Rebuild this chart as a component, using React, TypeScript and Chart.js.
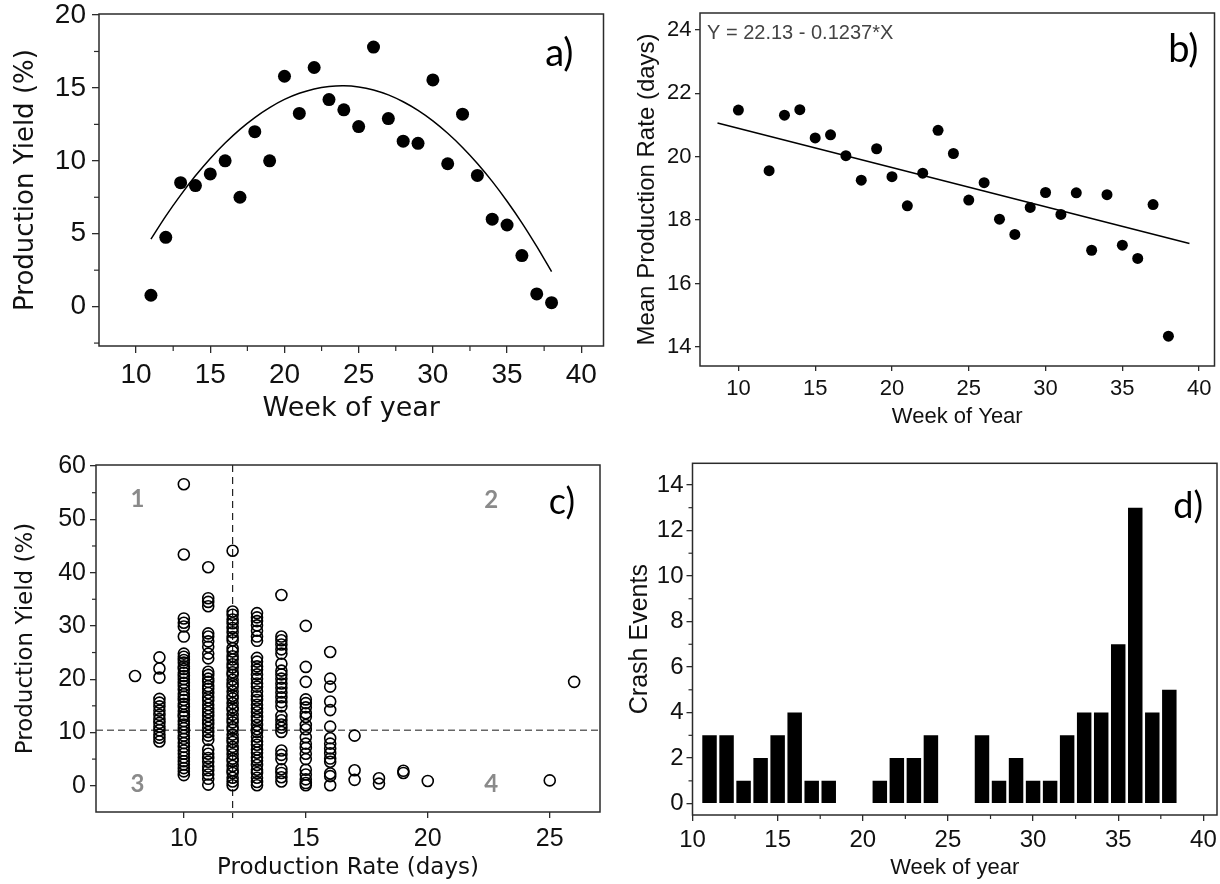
import React, { useEffect, useRef } from "react";
import { Chart, registerables } from "chart.js";

Chart.register(...registerables);

const INK = "#2b2b2b";
const TEXT = "#111111";
const SANS = "'Liberation Sans', Arial, sans-serif";
const WIDE = "'DejaVu Sans', Verdana, sans-serif";
const TAG = "Lato, 'Open Sans', sans-serif";

// ---------- Panel a: production yield by week ----------
const aWeeks = [11, 12, 13, 14, 15, 16, 17, 18, 19, 20, 21, 22, 23, 24, 25, 26, 27, 28, 29, 30, 31, 32, 33, 34, 35, 36, 37, 38];
const aYield = [0.78, 4.75, 8.5, 8.3, 9.1, 10.0, 7.5, 12.0, 10.0, 15.8, 13.25, 16.4, 14.2, 13.5, 12.35, 17.8, 12.9, 11.35, 11.2, 15.55, 9.8, 13.2, 9.0, 6.0, 5.6, 3.5, 0.87, 0.27];
const aFitWeeks = [11, 12, 13, 14, 15, 16, 17, 18, 19, 20, 21, 22, 23, 24, 25, 26, 27, 28, 29, 30, 31, 32, 33, 34, 35, 36, 37, 38];
const aFitYield = [4.63, 6.21, 7.65, 8.97, 10.16, 11.22, 12.16, 12.97, 13.65, 14.21, 14.63, 14.93, 15.1, 15.15, 15.07, 14.86, 14.52, 14.05, 13.46, 12.74, 11.89, 10.92, 9.82, 8.59, 7.23, 5.75, 4.13, 2.4];
const aXTicks = [10, 15, 20, 25, 30, 35, 40];
const aXMinor = [12.5, 17.5, 22.5, 27.5, 32.5, 37.5];
const aYTicks = [0, 5, 10, 15, 20];
const aYMinor = [-2.5, 2.5, 7.5, 12.5, 17.5];

// ---------- Panel b: mean production rate by week ----------
const bWeeks = [10, 12, 13, 14, 15, 16, 17, 18, 19, 20, 21, 22, 23, 24, 25, 26, 27, 28, 29, 30, 31, 32, 33, 34, 35, 36, 37, 38];
const bRate = [21.47, 19.56, 21.31, 21.48, 20.59, 20.69, 20.03, 19.26, 20.25, 19.37, 18.45, 19.48, 20.83, 20.1, 18.63, 19.18, 18.03, 17.55, 18.4, 18.87, 18.18, 18.86, 17.05, 18.8, 17.21, 16.79, 18.49, 14.34];
const bTrendWeeks = [8.64, 39.37];
const bTrendRate = [21.06, 17.26];
const bEquation = "Y = 22.13 - 0.1237*X";
const bXTicks = [10, 15, 20, 25, 30, 35, 40];
const bYTicks = [14, 16, 18, 20, 22, 24];

// ---------- Panel c: yield vs production rate ----------
const cRates = [8, 9, 10, 11, 12, 13, 14, 15, 16, 17, 18, 19, 20, 25, 26];
const cYields = [
  [20.6],
  [24.1, 22.0, 20.3, 16.3, 15.6, 14.9, 14.1, 13.3, 12.5, 11.8, 11.1, 10.4, 9.6, 9.0, 8.3],
  [56.6, 43.4, 31.4, 30.6, 29.9, 28.0, 24.8, 24.2, 23.6, 23.1, 22.4, 21.9, 21.2, 20.6, 20.0, 19.3, 18.7, 18.0, 17.2, 16.7, 16.1, 15.4, 14.8, 14.0, 13.3, 12.9, 12.1, 11.5, 10.8, 10.1, 9.4, 8.8, 8.0, 7.3, 6.6, 6.0, 5.3, 4.6, 4.0, 3.3, 2.7, 2.0],
  [41.0, 35.2, 34.5, 33.7, 28.6, 28.0, 27.1, 26.1, 24.8, 23.9, 21.4, 20.8, 20.1, 19.5, 18.7, 18.2, 17.4, 16.6, 16.0, 15.2, 14.5, 13.8, 13.1, 12.3, 11.6, 10.9, 10.1, 9.4, 8.6, 6.8, 6.0, 5.2, 4.5, 3.6, 2.9, 2.1, 1.3, 0.2],
  [44.1, 32.7, 32.1, 31.2, 30.5, 29.6, 28.8, 27.9, 27.3, 25.8, 25.2, 24.3, 23.7, 22.8, 22.2, 21.3, 20.8, 19.9, 19.1, 18.6, 17.7, 16.9, 16.4, 15.5, 14.7, 14.2, 13.3, 12.5, 11.9, 11.0, 10.5, 9.6, 8.8, 8.2, 7.3, 6.7, 5.9, 5.1, 4.6, 3.7, 2.9, 2.4, 1.5, 0.8, 0.1],
  [32.4, 31.6, 30.9, 30.1, 29.1, 28.0, 27.2, 24.0, 23.3, 22.4, 21.8, 20.9, 20.1, 19.2, 18.6, 17.7, 16.8, 16.1, 15.2, 14.5, 13.8, 12.9, 12.3, 11.4, 10.6, 10.1, 9.2, 8.3, 7.7, 6.8, 6.2, 5.3, 4.7, 3.9, 3.0, 2.4, 1.5, 0.7, 0.1],
  [35.8, 28.0, 27.3, 26.5, 25.6, 24.8, 22.9, 21.6, 20.9, 20.1, 19.2, 18.4, 17.5, 16.6, 15.7, 14.9, 13.1, 12.3, 11.5, 10.9, 10.1, 6.6, 5.8, 5.0, 3.1, 2.4, 1.6, 0.8],
  [30.0, 22.3, 19.5, 16.2, 15.5, 14.7, 13.6, 12.9, 11.4, 10.6, 9.1, 7.9, 7.1, 6.0, 5.0, 3.0, 2.1, 1.2, 0.5, 0.1],
  [25.1, 20.1, 18.6, 15.8, 14.2, 11.1, 8.9, 7.9, 7.0, 6.1, 5.1, 4.5, 2.3, 1.8, 0.1],
  [9.4, 2.9, 1.1],
  [1.4, 0.4],
  [2.8, 2.4],
  [0.9],
  [1.0],
  [19.5],
];
const cRateThreshold = 12;
const cYieldThreshold = 10.4;
const cXTicks = [10, 15, 20, 25];
const cYTicks = [0, 10, 20, 30, 40, 50, 60];
const cYMinor = [5, 15, 25, 35, 45, 55];
const cQuadrants = ["1", "2", "3", "4"];

// ---------- Panel d: crash events by week ----------
const dWeeks = [11, 12, 13, 14, 15, 16, 17, 18, 19, 20, 21, 22, 23, 24, 25, 26, 27, 28, 29, 30, 31, 32, 33, 34, 35, 36, 37, 38];
const dCrashes = [3, 3, 1, 2, 3, 4, 1, 1, 0, 0, 1, 2, 2, 3, 0, 0, 3, 1, 2, 1, 1, 3, 4, 4, 7, 13, 4, 5];
const dXTicks = [10, 15, 20, 25, 30, 35, 40];
const dXMinor = [12.5, 17.5, 22.5, 27.5, 32.5, 37.5];
const dYTicks = [0, 2, 4, 6, 8, 10, 12, 14];
const dYMinor = [1, 3, 5, 7, 9, 11, 13];

const overlayPlugin = {
  id: "overlay",
  beforeDatasetsDraw(chart: any, _args: any, opts: any) {
    const { ctx, chartArea: a, scales } = chart;
    (opts.dashes || []).forEach((d: any) => {
      ctx.save();
      ctx.setLineDash(d.dash);
      ctx.strokeStyle = d.color;
      ctx.lineWidth = d.width;
      ctx.beginPath();
      if (d.axis === "x") {
        const px = scales.x.getPixelForValue(d.value);
        ctx.moveTo(px, a.top);
        ctx.lineTo(px, a.bottom + (d.extend || 0));
      } else {
        const py = scales.y.getPixelForValue(d.value);
        ctx.moveTo(a.left, py);
        ctx.lineTo(a.right, py);
      }
      ctx.stroke();
      ctx.restore();
    });
  },
  afterDraw(chart: any, _args: any, opts: any) {
    const { ctx, chartArea: a, scales } = chart;
    ctx.save();
    ctx.strokeStyle = INK;
    ctx.lineWidth = 1.5;
    ctx.strokeRect(a.left, a.top, a.right - a.left, a.bottom - a.top);
    ctx.lineWidth = 1.2;
    (opts.xMinor || []).forEach((v: number) => {
      const px = scales.x.getPixelForValue(v);
      ctx.beginPath();
      ctx.moveTo(px, a.bottom);
      ctx.lineTo(px, a.bottom + opts.minorLen);
      ctx.stroke();
    });
    (opts.yMinor || []).forEach((v: number) => {
      const py = scales.y.getPixelForValue(v);
      ctx.beginPath();
      ctx.moveTo(a.left, py);
      ctx.lineTo(a.left - opts.minorLen, py);
      ctx.stroke();
    });
    (opts.texts || []).forEach((t: any) => {
      ctx.font = t.font;
      ctx.fillStyle = t.color;
      ctx.textAlign = t.align;
      ctx.textBaseline = "middle";
      const x = t.dataX !== undefined ? scales.x.getPixelForValue(t.dataX) : t.fromRight ? a.right - t.dx : a.left + t.dx;
      const y = t.dataY !== undefined ? scales.y.getPixelForValue(t.dataY) : a.top + t.dy;
      ctx.fillText(t.text, x, y);
    });
    ctx.restore();
  },
};

function makeAxis(o: any) {
  const isX = o.pos === "x";
  return {
    type: "linear",
    position: isX ? "bottom" : "left",
    min: o.min,
    max: o.max,
    offset: false,
    afterBuildTicks: (s: any) => {
      s.ticks = o.ticks.map((v: number) => ({ value: v }));
    },
    afterFit: (s: any) => {
      if (isX) {
        s.height = o.size;
        s.paddingLeft = 0;
        s.paddingRight = 0;
      } else {
        s.width = o.size;
        s.paddingTop = 0;
        s.paddingBottom = 0;
      }
    },
    grid: { display: true, drawOnChartArea: false, drawTicks: true, tickLength: o.tickLen, color: INK, lineWidth: 1.3, offset: false },
    border: { display: false },
    ticks: {
      font: { family: o.tickFamily || o.family, size: o.tickSize },
      color: TEXT,
      padding: o.tickPad,
      autoSkip: false,
      maxRotation: 0,
      minRotation: 0,
      callback: (v: any) => String(v),
    },
    title: {
      display: true,
      text: o.title,
      font: { family: o.family, size: o.titleSize },
      color: TEXT,
      padding: isX ? { top: 0, bottom: o.titlePad } : { top: o.titlePad, bottom: 0 },
    },
  };
}

function baseOptions(pad: any, scales: any, overlay: any) {
  return {
    responsive: false,
    maintainAspectRatio: false,
    animation: false,
    layout: { padding: pad },
    plugins: { legend: { display: false }, tooltip: { enabled: false }, overlay },
    scales,
  };
}

function configA() {
  return {
    type: "scatter",
    data: {
      datasets: [
        {
          data: aWeeks.map((w, i) => ({ x: w, y: aYield[i] })),
          pointRadius: 6.5,
          backgroundColor: "#000",
          borderWidth: 0,
        },
        {
          data: aFitWeeks.map((w, i) => ({ x: w, y: aFitYield[i] })),
          showLine: true,
          pointRadius: 0,
          borderColor: "#000",
          borderWidth: 1.5,
          tension: 0.3,
          fill: false,
        },
      ],
    },
    options: baseOptions(
      { left: 0, top: 14, right: 5, bottom: 0 },
      {
        x: makeAxis({ pos: "x", min: 7.5, max: 41.5, ticks: aXTicks, size: 94, tickLen: 7, tickPad: 5, family: WIDE, tickFamily: SANS, tickSize: 28, title: "Week of year", titleSize: 27, titlePad: 15 }),
        y: makeAxis({ pos: "y", min: -2.7, max: 20.07, ticks: aYTicks, size: 99, tickLen: 7, tickPad: 6, family: WIDE, tickFamily: SANS, tickSize: 28, title: "Production Yield (%)", titleSize: 26, titlePad: 11 }),
      },
      {
        xMinor: aXMinor,
        yMinor: aYMinor,
        minorLen: 5,
        texts: [{ text: "a)", font: `38px ${TAG}`, color: "#000", align: "right", fromRight: true, dx: 30, dy: 40 }],
      }
    ),
  };
}

function configB() {
  return {
    type: "scatter",
    data: {
      datasets: [
        {
          data: bWeeks.map((w, i) => ({ x: w, y: bRate[i] })),
          pointRadius: 5.5,
          backgroundColor: "#000",
          borderWidth: 0,
        },
        {
          data: bTrendWeeks.map((w, i) => ({ x: w, y: bTrendRate[i] })),
          showLine: true,
          pointRadius: 0,
          borderColor: "#000",
          borderWidth: 1.5,
          fill: false,
        },
      ],
    },
    options: baseOptions(
      { left: 0, top: 13, right: 3, bottom: 0 },
      {
        x: makeAxis({ pos: "x", min: 7.5, max: 41, ticks: bXTicks, size: 74, tickLen: 5, tickPad: 5, family: SANS, tickSize: 22, title: "Week of Year", titleSize: 22, titlePad: 9.5 }),
        y: makeAxis({ pos: "y", min: 13.4, max: 24.53, ticks: bYTicks, size: 90, tickLen: 5, tickPad: 3.5, family: SANS, tickSize: 22, title: "Mean Production Rate (days)", titleSize: 24, titlePad: 23 }),
      },
      {
        texts: [
          { text: bEquation, font: `20px ${SANS}`, color: "#444", align: "left", dx: 7, dy: 20 },
          { text: "b)", font: `38px ${TAG}`, color: "#000", align: "right", fromRight: true, dx: 16, dy: 37 },
        ],
      }
    ),
  };
}

function configC() {
  const pts: any[] = [];
  cRates.forEach((r, i) => cYields[i].forEach((y) => pts.push({ x: r, y })));
  return {
    type: "scatter",
    data: {
      datasets: [
        {
          data: pts,
          pointRadius: 5.5,
          backgroundColor: "rgba(0,0,0,0)",
          borderColor: "#000",
          borderWidth: 1.6,
        },
      ],
    },
    options: baseOptions(
      { left: 0, top: 25, right: 10, bottom: 0 },
      {
        x: makeAxis({ pos: "x", min: 6.4, max: 27.06, ticks: cXTicks, size: 72, tickLen: 6, tickPad: 6, family: WIDE, tickFamily: SANS, tickSize: 25, title: "Production Rate (days)", titleSize: 23, titlePad: 2 }),
        y: makeAxis({ pos: "y", min: -4.93, max: 60.2, ticks: cYTicks, size: 96, tickLen: 6, tickPad: 4, family: WIDE, tickFamily: SANS, tickSize: 25, title: "Production Yield (%)", titleSize: 23, titlePad: 12.5 }),
      },
      {
        yMinor: cYMinor,
        minorLen: 4,
        dashes: [
          { axis: "x", value: cRateThreshold, color: "#222", width: 1.2, dash: [7, 5], extend: 6 },
          { axis: "y", value: cYieldThreshold, color: "#666", width: 1.4, dash: [7, 4] },
        ],
        texts: [
          { text: cQuadrants[0], font: `bold 24px ${TAG}`, color: "#8a8a8a", align: "center", dataX: 8.1, dataY: 53.8 },
          { text: cQuadrants[1], font: `bold 24px ${TAG}`, color: "#8a8a8a", align: "center", dataX: 22.6, dataY: 53.6 },
          { text: cQuadrants[2], font: `bold 24px ${TAG}`, color: "#8a8a8a", align: "center", dataX: 8.1, dataY: 0.3 },
          { text: cQuadrants[3], font: `bold 24px ${TAG}`, color: "#8a8a8a", align: "center", dataX: 22.6, dataY: 0.3 },
          { text: "c)", font: `36px ${TAG}`, color: "#000", align: "right", fromRight: true, dx: 25, dy: 37 },
        ],
      }
    ),
  };
}

function configD() {
  return {
    type: "bar",
    data: {
      datasets: [
        {
          data: dWeeks.map((w, i) => ({ x: w, y: dCrashes[i] })),
          backgroundColor: "#000",
          borderWidth: 0,
          barPercentage: 0.85,
          categoryPercentage: 1,
        },
      ],
    },
    options: baseOptions(
      { left: 0, top: 23.3, right: 3, bottom: 0 },
      {
        x: makeAxis({ pos: "x", min: 10, max: 40.8, ticks: dXTicks, size: 69, tickLen: 6, tickPad: 5, family: SANS, tickSize: 24, title: "Week of year", titleSize: 22, titlePad: 3 }),
        y: makeAxis({ pos: "y", min: -0.5, max: 14.95, ticks: dYTicks, size: 82.5, tickLen: 6, tickPad: 3, family: SANS, tickSize: 24, title: "Crash Events", titleSize: 25, titlePad: 15 }),
      },
      {
        xMinor: dXMinor,
        yMinor: dYMinor,
        minorLen: 4,
        texts: [{ text: "d)", font: `36px ${TAG}`, color: "#000", align: "right", fromRight: true, dx: 14, dy: 43 }],
      }
    ),
  };
}

function Panel({ make, left, top, width, height }: { make: () => any; left: number; top: number; width: number; height: number }) {
  const ref = useRef<HTMLCanvasElement>(null);
  useEffect(() => {
    const cfg = make();
    cfg.plugins = [overlayPlugin];
    const chart = new Chart(ref.current as HTMLCanvasElement, cfg);
    return () => chart.destroy();
  }, []);
  return (
    <canvas
      ref={ref}
      width={width}
      height={height}
      style={{ position: "absolute", left, top, width, height, display: "block" }}
    />
  );
}

export default function App() {
  return (
    <div style={{ position: "absolute", left: 0, top: 0, width: 1220, height: 884, background: "#fff", overflow: "hidden" }}>
      <Panel make={configA} left={0} top={0} width={610} height={440} />
      <Panel make={configB} left={610} top={0} width={610} height={440} />
      <Panel make={configC} left={0} top={440} width={610} height={444} />
      <Panel make={configD} left={610} top={440} width={610} height={444} />
    </div>
  );
}
